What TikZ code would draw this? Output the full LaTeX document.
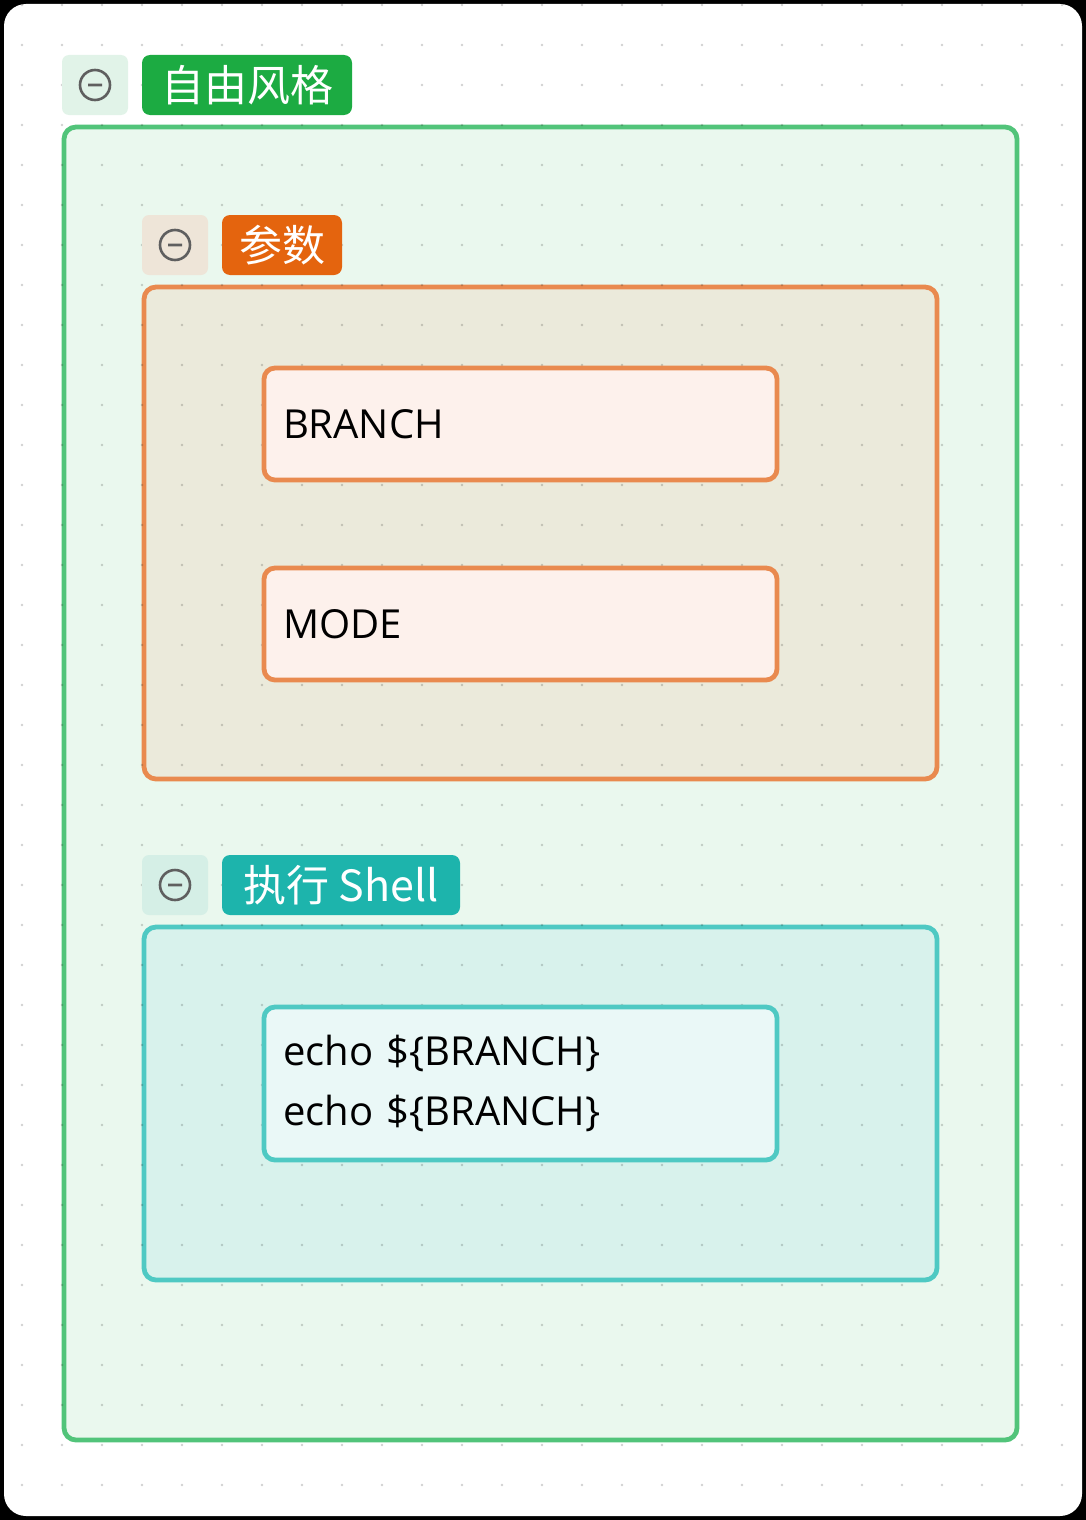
\documentclass[tikz,border=0pt]{standalone}
\usepackage{fontspec}
\setmainfont{Open Sans}
\newfontfamily\cjkfont{Noto Sans CJK SC}
\usetikzlibrary{positioning}
\definecolor{freeline}{RGB}{82, 196, 122}
\definecolor{freetag}{RGB}{28, 171, 66}
\definecolor{freefill}{RGB}{234, 248, 238}
\definecolor{freetoggle}{RGB}{225, 243, 232}
\definecolor{paramline}{RGB}{233, 138, 79}
\definecolor{paramtag}{RGB}{228, 100, 14}
\definecolor{paramfill}{RGB}{235, 234, 219}
\definecolor{paramtoggle}{RGB}{238, 229, 216}
\definecolor{paramitem}{RGB}{253, 241, 236}
\definecolor{shellline}{RGB}{79, 201, 195}
\definecolor{shelltag}{RGB}{29, 180, 172}
\definecolor{shellfill}{RGB}{216, 242, 236}
\definecolor{shelltoggle}{RGB}{213, 239, 230}
\definecolor{shellitem}{RGB}{234, 248, 247}
\definecolor{icongray}{RGB}{95, 95, 95}
\tikzset{
  toggle/.style={fill=#1, rounded corners=7pt, minimum width=66pt, minimum height=60pt,
    inner sep=0pt, outer sep=0pt, anchor=north west,
    path picture={\draw[icongray, line width=2.6pt]
      (path picture bounding box.center) circle[radius=15pt]
      ++(-7pt,0) -- ++(14pt,0);}},
  tag/.style={fill=#1, text=white, rounded corners=8pt, minimum height=60pt,
    inner sep=0pt, inner xsep=17pt, outer sep=0pt, anchor=north west,
    font=\cjkfont\fontsize{43}{50}\selectfont},
  groupbox/.style={draw=#1, line width=4.8pt, rounded corners=12pt, inner sep=0pt,
    outer sep=0pt, anchor=north west},
  itembox/.style={draw=#1, line width=4.8pt, rounded corners=11pt, anchor=north west,
    outer sep=0pt, inner xsep=19pt, inner ysep=0pt, minimum width=513pt,
    text width=475pt, align=left, font=\fontsize{40}{60}\selectfont}
}

\begin{document}
\begin{tikzpicture}[x=1pt, y=-1pt]
  % Canvas
  \fill[black] (0,0) rectangle (1086,1520);
  \useasboundingbox (0,0) rectangle (1086,1520);
  \fill[white, rounded corners=22pt] (4,4) rectangle (1082,1516);

  % Group frames
  \node[groupbox=freeline, fill=freefill, minimum width=953pt, minimum height=1313pt] (free) at (64,127) {};
  \node[groupbox=paramline, fill=paramfill, minimum width=793pt, minimum height=492pt] (param) at (144,287) {};
  \node[groupbox=shellline, fill=shellfill, minimum width=793pt, minimum height=353pt] (shell) at (144,927) {};

  % Dot grid
  \begin{scope}
    \clip[rounded corners=22pt] (4,4) rectangle (1082,1516);
    \foreach \i in {0,...,26}
      \foreach \j in {0,...,37}
        \fill[black, opacity=0.18] (22+40*\i, 5+40*\j) circle[radius=1.4pt];
  \end{scope}

  % Group headers
  \node[toggle=freetoggle] (freetg) at (62,55) {};
  \node[tag=freetag, minimum width=210pt] (freelbl) at (142,55) {自由风格};
  \node[toggle=paramtoggle] (paramtg) at (142,215) {};
  \node[tag=paramtag, minimum width=120pt] (paramlbl) at (222,215) {参数};
  \node[toggle=shelltoggle] (shelltg) at (142,855) {};
  \node[tag=shelltag, minimum width=238pt] (shelllbl) at (222,855) {执行 Shell};

  % Items
  \node[itembox=paramline, fill=paramitem, minimum height=112pt] (branch) at (264,368) {BRANCH};
  \node[itembox=paramline, fill=paramitem, minimum height=112pt] (mode) at (264,568) {MODE};
  \node[itembox=shellline, fill=shellitem, minimum height=153pt] (echo) at (264,1007) {
    echo \$\{BRANCH\}\\
    echo \$\{BRANCH\}
  };
\end{tikzpicture}
\end{document}
